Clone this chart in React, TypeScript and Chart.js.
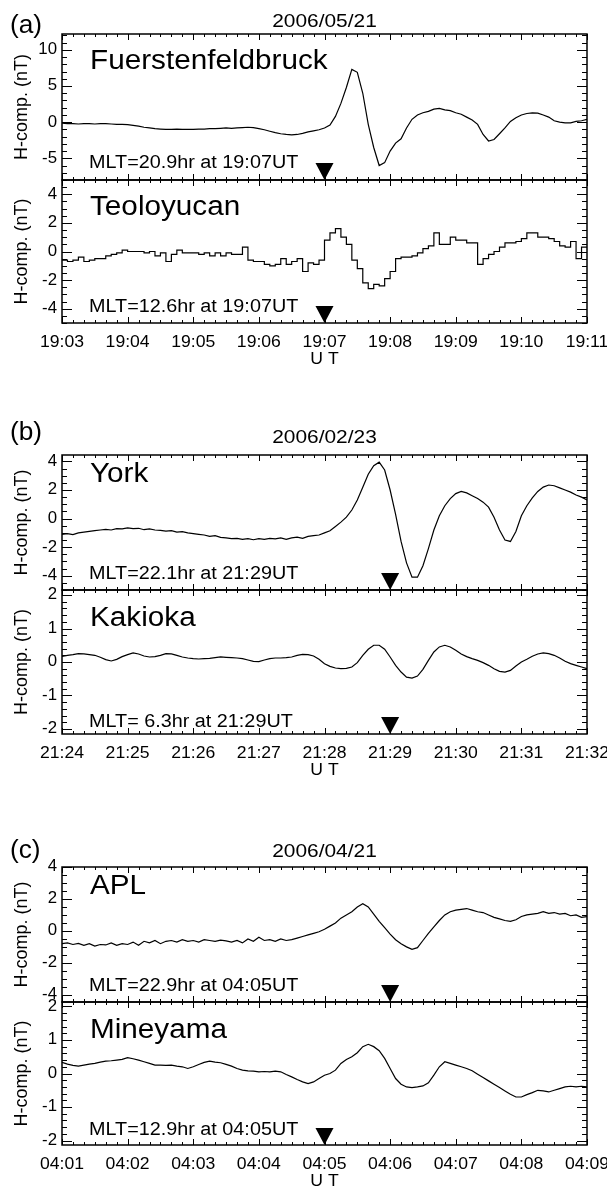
import { useEffect, useRef } from "react";
import { Chart, registerables } from "chart.js";

Chart.register(...registerables);

const W = 607;
const H = 1191;
const SAMPLE_SECONDS = 5;
const SPAN_SECONDS = 480;

// ---------- tick labels ----------
const X_LABELS_A = ["19:03", "19:04", "19:05", "19:06", "19:07", "19:08", "19:09", "19:10", "19:11"];
const X_LABELS_B = ["21:24", "21:25", "21:26", "21:27", "21:28", "21:29", "21:30", "21:31", "21:32"];
const X_LABELS_C = ["04:01", "04:02", "04:03", "04:04", "04:05", "04:06", "04:07", "04:08", "04:09"];

const Y_TICKS_FUER = [-5, 0, 5, 10];
const Y_TICKS_TEOL = [-4, -2, 0, 2, 4];
const Y_TICKS_YORK = [-4, -2, 0, 2, 4];
const Y_TICKS_KAKI = [-2, -1, 0, 1, 2];
const Y_TICKS_APL = [-4, -2, 0, 2, 4];
const Y_TICKS_MINE = [-2, -1, 0, 1, 2];

// ---------- series (H component, nT, one value every 5 s) ----------
const FUER_H = [
  -0.15, -0.2, -0.2, -0.25, -0.2, -0.2, -0.25, -0.2, -0.2, -0.25, -0.3, -0.3,
  -0.35, -0.45, -0.55, -0.7, -0.8, -0.9, -0.95, -1.0, -1.0, -0.95, -1.0, -1.0,
  -1.0, -0.95, -0.95, -0.9, -0.9, -0.85, -0.8, -0.85, -0.8, -0.75, -0.7, -0.75,
  -0.9, -1.05, -1.25, -1.45, -1.6, -1.7, -1.75, -1.7, -1.55, -1.35, -1.2, -1.05,
  -0.8, -0.4, 0.8, 2.6, 4.8, 7.3, 6.9, 4.0, -0.3, -3.5, -6.0, -5.6,
  -4.0, -2.9, -2.3, -0.8, 0.4, 1.0, 1.3, 1.5, 1.8, 1.9, 1.7, 1.6,
  1.3, 1.1, 0.7, 0.3, -0.3, -1.7, -2.6, -2.4, -1.6, -0.8, 0.1, 0.6,
  1.0, 1.2, 1.3, 1.25, 1.0, 0.7, 0.2, 0.0, -0.1, -0.1, 0.1, 0.2,
  0.4,
];

const TEOL_H = [
  -0.5, -0.6, -0.7, -0.6, -0.4, -0.7, -0.6, -0.5, -0.5, -0.3, -0.2, -0.1,
  0.1, 0.0, 0.0, 0.0, -0.1, 0.0, -0.3, -0.1, -0.7, -0.2, 0.1, -0.1,
  -0.1, -0.1, -0.2, -0.1, -0.3, -0.1, -0.3, -0.1, -0.2, -0.2, 0.3, -0.6,
  -0.7, -0.7, -0.9, -1.0, -0.9, -0.5, -0.9, -0.7, -0.5, -1.4, -0.8, -0.9,
  -0.6, 0.8, 1.3, 1.6, 1.0, 0.5, -0.6, -1.2, -2.2, -2.6, -2.3, -2.4,
  -1.9, -1.4, -0.5, -0.4, -0.4, -0.3, -0.1, 0.2, 0.4, 1.3, 0.5, 0.5,
  1.0, 0.8, 0.8, 0.6, 0.6, -0.9, -0.5, -0.2, 0.0, 0.3, 0.6, 0.6,
  0.7, 0.9, 1.3, 1.3, 1.0, 1.0, 0.9, 0.7, 0.4, 0.3, 0.7, -0.5,
  0.3,
];

const YORK_H = [
  -1.1, -1.05, -1.12, -1.0, -0.95, -0.9, -0.85, -0.8, -0.75, -0.8, -0.7, -0.72,
  -0.65, -0.7, -0.68, -0.78, -0.72, -0.8, -0.82, -0.88, -0.85, -0.95, -0.92, -1.0,
  -1.05, -1.1, -1.15, -1.25, -1.2, -1.32, -1.35, -1.4, -1.38, -1.45, -1.4, -1.48,
  -1.4, -1.45, -1.38, -1.42, -1.35, -1.45, -1.35, -1.3, -1.38, -1.25, -1.2, -1.15,
  -1.0, -0.85, -0.55, -0.25, 0.1, 0.6, 1.3, 2.2, 3.1, 3.7, 3.95, 3.4,
  2.0, 0.3, -1.6, -3.1, -4.1, -4.1, -3.3, -2.1, -0.8, 0.2, 0.9, 1.4,
  1.75, 1.9, 1.8, 1.6, 1.4, 1.15, 0.8, 0.1, -0.8, -1.5, -1.6, -0.9,
  0.2, 0.9, 1.45, 1.9, 2.2, 2.35, 2.3, 2.15, 2.0, 1.85, 1.65, 1.5,
  1.3,
];

const KAKI_H = [
  0.17, 0.2, 0.22, 0.25, 0.24, 0.22, 0.2, 0.14, 0.07, 0.03, 0.08, 0.16,
  0.22, 0.27, 0.24, 0.18, 0.15, 0.16, 0.2, 0.25, 0.24, 0.2, 0.15, 0.12,
  0.1, 0.09, 0.1, 0.11, 0.13, 0.15, 0.14, 0.13, 0.12, 0.1, 0.06, 0.02,
  0.01, 0.06, 0.1, 0.12, 0.12, 0.13, 0.15, 0.2, 0.23, 0.22, 0.18, 0.08,
  -0.05, -0.13, -0.18, -0.2, -0.19, -0.15, -0.02, 0.2, 0.38, 0.5, 0.5, 0.38,
  0.15, -0.1, -0.3, -0.45, -0.48, -0.42, -0.22, 0.05, 0.3, 0.45, 0.5, 0.45,
  0.35, 0.24, 0.16, 0.1, 0.05, -0.02, -0.1, -0.2, -0.28, -0.3, -0.25, -0.12,
  0.0, 0.08, 0.17, 0.24, 0.27, 0.25, 0.2, 0.12, 0.02, -0.05, -0.1, -0.15,
  -0.2,
];

const APL_H = [
  -0.8, -0.75, -0.85, -0.78, -0.9, -0.8, -0.95, -0.85, -0.88, -0.75, -0.9, -0.8,
  -0.85, -0.7, -0.9, -0.65, -0.75, -0.6, -0.8, -0.65, -0.6, -0.7, -0.55, -0.65,
  -0.6, -0.7, -0.55, -0.6, -0.65, -0.58, -0.62, -0.7, -0.6, -0.75, -0.5, -0.65,
  -0.4, -0.6, -0.55, -0.65, -0.5, -0.6, -0.55, -0.45, -0.35, -0.25, -0.15, -0.05,
  0.1, 0.3, 0.5, 0.8, 1.0, 1.2, 1.5, 1.7, 1.5, 1.05, 0.6, 0.2,
  -0.2, -0.55, -0.8, -1.0, -1.15, -1.05, -0.6, -0.15, 0.25, 0.65, 1.0, 1.2,
  1.3, 1.35, 1.4, 1.3, 1.2, 1.15, 1.0, 0.85, 0.75, 0.65, 0.6, 0.7,
  0.9, 1.0, 1.05, 1.1, 1.2, 1.1, 1.15, 1.05, 1.1, 0.95, 1.0, 0.85,
  0.9,
];

const MINE_H = [
  0.33, 0.28, 0.24, 0.22, 0.25, 0.28, 0.3, 0.34, 0.37, 0.38, 0.4, 0.42,
  0.47, 0.44, 0.4, 0.35, 0.3, 0.25, 0.25, 0.24, 0.25, 0.22, 0.2, 0.15,
  0.2, 0.27, 0.33, 0.37, 0.34, 0.32, 0.27, 0.22, 0.15, 0.1, 0.08, 0.07,
  0.05, 0.06, 0.05, 0.07, 0.05, -0.03, -0.1, -0.18, -0.25, -0.3, -0.25, -0.15,
  -0.05, 0.0, 0.1, 0.3, 0.42, 0.5, 0.62, 0.8, 0.87, 0.8, 0.68, 0.45,
  0.15, -0.15, -0.32, -0.4, -0.42, -0.4, -0.37, -0.28, -0.05, 0.2, 0.35, 0.3,
  0.25, 0.2, 0.15, 0.08, -0.02, -0.12, -0.22, -0.32, -0.42, -0.52, -0.62, -0.7,
  -0.7, -0.63, -0.57, -0.5, -0.52, -0.55, -0.5, -0.45, -0.4, -0.38, -0.4, -0.38,
  -0.4,
];

type PanelCfg = {
  station: string;
  mlt: string;
  values: number[];
  yMin: number;
  yMax: number;
  yTicks: number[];
  yMinor: number;
  yMajor: number;
  top: number;
  bottom: number;
  stationBase: number;
  mltBase: number;
  markerSec: number;
  stepped: boolean;
  xLabels?: string[];
  title?: string;
  titleBase?: number;
  letter?: string;
  letterBase?: number;
};

const PLOT_LEFT = 62;
const PLOT_RIGHT = 587;

const PANELS: PanelCfg[] = [
  {
    station: "Fuerstenfeldbruck", mlt: "MLT=20.9hr at 19:07UT", values: FUER_H,
    yMin: -8, yMax: 12.2, yTicks: Y_TICKS_FUER, yMinor: 1, yMajor: 5,
    top: 34, bottom: 180, stationBase: 68.5, mltBase: 168, markerSec: 240, stepped: false,
    title: "2006/05/21", titleBase: 27, letter: "(a)", letterBase: 33,
  },
  {
    station: "Teoloyucan", mlt: "MLT=12.6hr at 19:07UT", values: TEOL_H,
    yMin: -5, yMax: 5, yTicks: Y_TICKS_TEOL, yMinor: 0.5, yMajor: 2,
    top: 180, bottom: 323, stationBase: 215, mltBase: 312, markerSec: 240, stepped: true,
    xLabels: X_LABELS_A,
  },
  {
    station: "York", mlt: "MLT=22.1hr at 21:29UT", values: YORK_H,
    yMin: -5, yMax: 4.45, yTicks: Y_TICKS_YORK, yMinor: 0.5, yMajor: 2,
    top: 455, bottom: 590, stationBase: 482, mltBase: 579, markerSec: 300, stepped: false,
    title: "2006/02/23", titleBase: 443, letter: "(b)", letterBase: 440,
  },
  {
    station: "Kakioka", mlt: "MLT= 6.3hr at 21:29UT", values: KAKI_H,
    yMin: -2.15, yMax: 2.15, yTicks: Y_TICKS_KAKI, yMinor: 0.2, yMajor: 1,
    top: 590, bottom: 734, stationBase: 626, mltBase: 727, markerSec: 300, stepped: false,
    xLabels: X_LABELS_B,
  },
  {
    station: "APL", mlt: "MLT=22.9hr at 04:05UT", values: APL_H,
    yMin: -4.45, yMax: 4.0, yTicks: Y_TICKS_APL, yMinor: 0.5, yMajor: 2,
    top: 867, bottom: 1002, stationBase: 894, mltBase: 991, markerSec: 300, stepped: false,
    title: "2006/04/21", titleBase: 857, letter: "(c)", letterBase: 858,
  },
  {
    station: "Mineyama", mlt: "MLT=12.9hr at 04:05UT", values: MINE_H,
    yMin: -2.13, yMax: 2.13, yTicks: Y_TICKS_MINE, yMinor: 0.2, yMajor: 1,
    top: 1002, bottom: 1145, stationBase: 1038, mltBase: 1135, markerSec: 240, stepped: false,
    xLabels: X_LABELS_C,
  },
];

const FONT = '"Liberation Sans", Arial, Helvetica, sans-serif';
const SX = 1.1;

function txt(
  ctx: CanvasRenderingContext2D, s: string, x: number, y: number, size: number,
  align: CanvasTextAlign = "left", base: CanvasTextBaseline = "alphabetic", sx = SX
) {
  ctx.save();
  ctx.font = `${size}px ${FONT}`;
  ctx.textAlign = align;
  ctx.textBaseline = base;
  ctx.fillStyle = "#000";
  ctx.translate(x, y);
  ctx.scale(sx, 1);
  ctx.fillText(s, 0, 0);
  ctx.restore();
}

function makeDecor(cfg: PanelCfg) {
  return {
    id: "decor",
    afterDraw(chart: any) {
      const ctx: CanvasRenderingContext2D = chart.ctx;
      const { left, right, top, bottom } = chart.chartArea;
      const xs = chart.scales.x;
      const ys = chart.scales.y;
      ctx.save();
      ctx.strokeStyle = "#000";
      ctx.fillStyle = "#000";

      // ticks on x (top and bottom, inward)
      ctx.lineWidth = 1;
      ctx.beginPath();
      for (let s = 0; s <= SPAN_SECONDS; s += 10) {
        const px = Math.round(xs.getPixelForValue(s)) + 0.5;
        const len = s % 60 === 0 ? 6 : 3;
        ctx.moveTo(px, top);
        ctx.lineTo(px, top + len);
        ctx.moveTo(px, bottom);
        ctx.lineTo(px, bottom - len);
      }
      // ticks on y (left and right, inward)
      const start = Math.ceil(cfg.yMin / cfg.yMinor - 1e-6);
      const end = Math.floor(cfg.yMax / cfg.yMinor + 1e-6);
      for (let k = start; k <= end; k++) {
        const v = k * cfg.yMinor;
        const r = v / cfg.yMajor;
        const major = Math.abs(r - Math.round(r)) < 1e-6;
        const len = major ? 10 : 5;
        const py = Math.round(ys.getPixelForValue(v)) + 0.5;
        ctx.moveTo(left, py);
        ctx.lineTo(left + len, py);
        ctx.moveTo(right, py);
        ctx.lineTo(right - len, py);
      }
      ctx.stroke();

      // frame
      ctx.lineWidth = 1.5;
      ctx.strokeRect(left, top, right - left, bottom - top);

      // y tick labels
      for (const v of cfg.yTicks) {
        txt(ctx, String(v), left - 5, ys.getPixelForValue(v), 16, "right", "middle", 1.05);
      }

      // y axis title
      ctx.save();
      ctx.translate(22, (top + bottom) / 2);
      ctx.rotate(-Math.PI / 2);
      ctx.font = `18px ${FONT}`;
      ctx.textAlign = "center";
      ctx.textBaseline = "middle";
      ctx.fillText("H-comp. (nT)", 0, 0);
      ctx.restore();

      // station name + MLT
      txt(ctx, cfg.station, 90, cfg.stationBase, 27);
      txt(ctx, cfg.mlt, 89, cfg.mltBase, 18);

      // marker triangle
      const mx = xs.getPixelForValue(cfg.markerSec);
      ctx.beginPath();
      ctx.moveTo(mx - 9, bottom - 17);
      ctx.lineTo(mx + 9, bottom - 17);
      ctx.lineTo(mx, bottom);
      ctx.closePath();
      ctx.fill();

      // x labels
      if (cfg.xLabels) {
        cfg.xLabels.forEach((lab, i) => {
          txt(ctx, lab, xs.getPixelForValue(i * 60), bottom + 23.5, 16, "center");
        });
        txt(ctx, "U T", (left + right) / 2, bottom + 41, 16, "center");
      }
      if (cfg.title) {
        txt(ctx, cfg.title, (left + right) / 2, cfg.titleBase!, 19, "center");
      }
      if (cfg.letter) {
        txt(ctx, cfg.letter, 10, cfg.letterBase!, 25, "left", "alphabetic", 1.05);
      }
      ctx.restore();
    },
  };
}

function Panel({ cfg }: { cfg: PanelCfg }) {
  const ref = useRef<HTMLCanvasElement | null>(null);
  useEffect(() => {
    if (!ref.current) return;
    const chart = new Chart(ref.current, {
      type: "line",
      data: {
        datasets: [
          {
            data: cfg.values.map((v, i) => ({ x: i * SAMPLE_SECONDS, y: v })),
            borderColor: "#000",
            borderWidth: 1.2,
            pointRadius: 0,
            tension: 0,
            fill: false,
            stepped: cfg.stepped ? "after" : false,
          } as any,
        ],
      },
      options: {
        responsive: false,
        animation: false,
        devicePixelRatio: 1,
        events: [],
        layout: {
          padding: { left: PLOT_LEFT, right: W - PLOT_RIGHT, top: cfg.top, bottom: H - cfg.bottom },
        },
        scales: {
          x: { type: "linear", display: false, min: 0, max: SPAN_SECONDS },
          y: { type: "linear", display: false, min: cfg.yMin, max: cfg.yMax },
        },
        plugins: { legend: { display: false }, tooltip: { enabled: false }, title: { display: false } },
      },
      plugins: [makeDecor(cfg)],
    });
    return () => chart.destroy();
  }, [cfg]);
  return (
    <canvas
      ref={ref}
      width={W}
      height={H}
      style={{ position: "absolute", left: 0, top: 0, width: W, height: H, pointerEvents: "none" }}
    />
  );
}

export default function App() {
  return (
    <div style={{ position: "absolute", left: 0, top: 0, width: W, height: H, background: "#fff", overflow: "hidden" }}>
      {PANELS.map((p, i) => (
        <Panel key={i} cfg={p} />
      ))}
    </div>
  );
}
